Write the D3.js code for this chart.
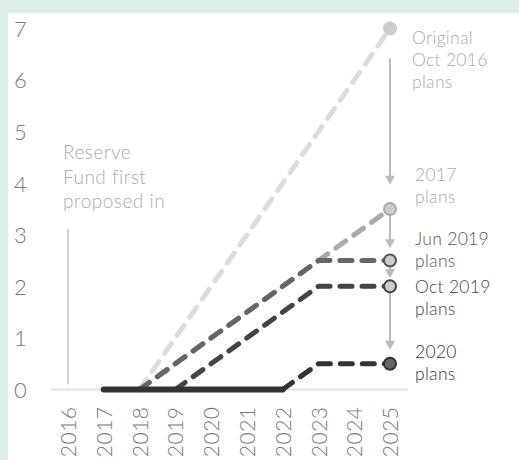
<!DOCTYPE html>
<html>
<head>
<meta charset="utf-8">
<script src="https://cdn.jsdelivr.net/npm/d3@7"></script>
<style>
  html, body { margin: 0; padding: 0; background: #dcf0e9; }
  svg { display: block; }
  text { font-family: "Lato", "Open Sans", sans-serif; }
</style>
</head>
<body>
<script>
// ---- data ----
const years = [2016, 2017, 2018, 2019, 2020, 2021, 2022, 2023, 2024, 2025];
const yTicks = [0, 1, 2, 3, 4, 5, 6, 7];

const originalYears = [2018, 2025];
const originalValues = [0, 7];

const plan2017Years = [2018, 2025];
const plan2017Values = [0, 3.5];

const jun2019Years = [2018, 2023, 2025];
const jun2019Values = [0, 2.5, 2.5];

const oct2019Years = [2019, 2023, 2025];
const oct2019Values = [0, 2, 2];

const plan2020SolidYears = [2017, 2022];
const plan2020SolidValues = [0, 0];
const plan2020DashYears = [2022, 2023, 2025];
const plan2020DashValues = [0, 0.5, 0.5];

const arrowFrom = [6.42, 3.38, 2.37, 1.89];
const arrowTo = [3.97, 2.74, 2.16, 0.77];

const seriesLabels = [
  { lines: ["Original", "Oct 2016", "plans"], value: 7 },
  { lines: ["2017", "plans"], value: 3.5 },
  { lines: ["Jun 2019", "plans"], value: 2.5 },
  { lines: ["Oct 2019", "plans"], value: 2 },
  { lines: ["2020", "plans"], value: 0.5 }
];
const noteLines = ["Reserve", "Fund first", "proposed in"];

// ---- drawing ----
const W = 519, H = 460;
const svg = d3.select("body").append("svg").attr("width", W).attr("height", H);

svg.append("rect").attr("x", 8).attr("y", 13).attr("width", W - 8).attr("height", H - 13).attr("fill", "#ffffff");

const x = d3.scaleLinear().domain([2016, 2025]).range([68, 390]);
const y = d3.scaleLinear().domain([0, 7]).range([389.5, 28.5]);

// y axis
const yAxis = svg.append("g").call(d3.axisLeft(y).tickValues(yTicks).tickSize(0).tickFormat(d3.format("d")));
yAxis.select(".domain").remove();
yAxis.selectAll("text")
  .attr("x", 14).attr("text-anchor", "start")
  .attr("fill", "#777").style("font-size", "22px").style("font-weight", 300)
  .attr("dy", "0.36em");

// baseline
svg.append("line")
  .attr("x1", 51).attr("x2", 408)
  .attr("y1", y(0)).attr("y2", y(0))
  .attr("stroke", "#e2e2e2").attr("stroke-width", 2);

// x axis
const xAxis = svg.append("g").attr("transform", `translate(0,${y(0)})`)
  .call(d3.axisBottom(x).tickValues(years).tickSize(0).tickFormat(d3.format("d")));
xAxis.select(".domain").remove();
xAxis.selectAll("text")
  .attr("transform", "rotate(-90)")
  .attr("text-anchor", "end")
  .attr("x", -17).attr("y", 0).attr("dy", "0.36em")
  .attr("fill", "#777").style("font-size", "21px").style("font-weight", 300)
  .style("letter-spacing", "0.5px");

// note vertical line at 2016
svg.append("line")
  .attr("x1", x(2016)).attr("x2", x(2016))
  .attr("y1", 229).attr("y2", y(0) - 5)
  .attr("stroke", "#c4c4c4").attr("stroke-width", 1.5);

svg.append("g").selectAll("text").data(noteLines).join("text")
  .attr("x", 63).attr("y", (d, i) => 159 + i * 24.5)
  .attr("fill", "#aaa").style("font-size", "19px").style("font-weight", 300)
  .style("letter-spacing", "0.5px")
  .text(d => d);

const line = d3.line().x(d => x(d[0])).y(d => y(d[1]));
const zip = (a, b) => a.map((v, i) => [v, b[i]]);

function dashed(ys, vs, color) {
  svg.append("path").attr("d", line(zip(ys, vs)))
    .attr("fill", "none").attr("stroke", color).attr("stroke-width", 5)
    .attr("stroke-dasharray", "12,10").attr("stroke-linecap", "round")
    .attr("stroke-linejoin", "round");
}

dashed(originalYears, originalValues, "#dcdcdc");
dashed(plan2017Years, plan2017Values, "#aaaaaa");
dashed(jun2019Years, jun2019Values, "#666666");
dashed(oct2019Years, oct2019Values, "#444444");
dashed(plan2020DashYears, plan2020DashValues, "#333333");
svg.append("path").attr("d", line(zip(plan2020SolidYears, plan2020SolidValues)))
  .attr("fill", "none").attr("stroke", "#333").attr("stroke-width", 6)
  .attr("stroke-linecap", "round");

// arrows
const ax = x(2025);
arrowFrom.forEach((f, i) => {
  const y1 = y(f), y2 = y(arrowTo[i]);
  svg.append("line").attr("x1", ax).attr("x2", ax).attr("y1", y1).attr("y2", y2 - 8)
    .attr("stroke", "#bbb").attr("stroke-width", 2);
  svg.append("path")
    .attr("d", `M${ax - 5},${y2 - 9} L${ax + 5},${y2 - 9} L${ax},${y2} Z`)
    .attr("fill", "#bbb");
});

// dots
const dots = [
  { v: 7, fill: "#cccccc", stroke: "none", r: 7 },
  { v: 3.5, fill: "#cccccc", stroke: "#aaaaaa", r: 6 },
  { v: 2.5, fill: "#cccccc", stroke: "#555555", r: 6 },
  { v: 2, fill: "#cccccc", stroke: "#444444", r: 6 },
  { v: 0.5, fill: "#666666", stroke: "#333333", r: 6 }
];
svg.append("g").selectAll("circle").data(dots).join("circle")
  .attr("cx", x(2025)).attr("cy", d => y(d.v)).attr("r", d => d.r)
  .attr("fill", d => d.fill).attr("stroke", d => d.stroke).attr("stroke-width", 2);

// series labels
const labelPos = [
  { x: 412, y: [44, 66, 88], color: "#aaa" },
  { x: 415, y: [181, 203], color: "#aaa" },
  { x: 415, y: [245, 267], color: "#555" },
  { x: 415, y: [293, 315], color: "#444" },
  { x: 415, y: [358, 380], color: "#333" }
];
seriesLabels.forEach((s, i) => {
  const p = labelPos[i];
  svg.append("g").selectAll("text").data(s.lines).join("text")
    .attr("x", p.x).attr("y", (d, j) => p.y[j])
    .attr("fill", p.color).style("font-size", "17.5px").style("font-weight", 300)
    .style("letter-spacing", "0.3px")
    .text(d => d);
});
</script>
</body>
</html>
